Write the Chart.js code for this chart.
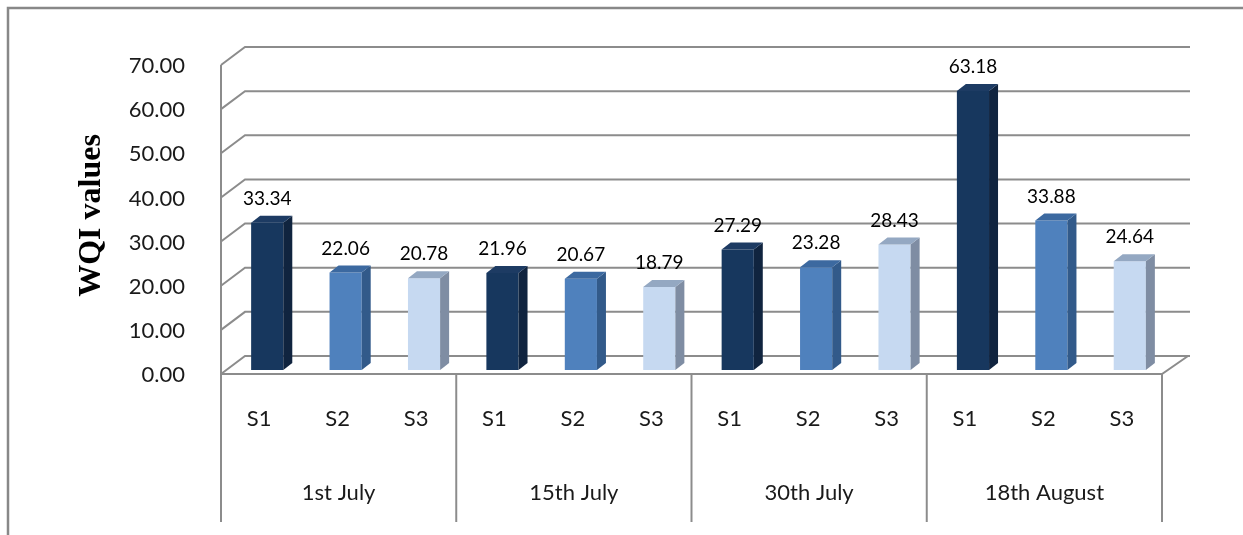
<!DOCTYPE html>
<html>
<head>
<meta charset="utf-8">
<script src="https://cdn.jsdelivr.net/npm/chart.js@4.4.1/dist/chart.umd.min.js"></script>
<style>
  html, body { margin: 0; padding: 0; background: #fff; }
  #wrap { width: 1243px; height: 535px; }
</style>
</head>
<body>
<div id="wrap"><canvas id="myChart" width="1243" height="535"></canvas></div>
<script>
// sampling dates and sites
const dates = ['1st July', '15th July', '30th July', '18th August'];
const sites = ['S1', 'S2', 'S3'];

// WQI values per site
const s1 = [33.34, 21.96, 27.29, 63.18];
const s2 = [22.06, 20.67, 23.28, 33.88];
const s3 = [20.78, 18.79, 28.43, 24.64];

const yMin = 0;
const yMax = 70;
const yStep = 10;

// front / side / top colours for each site
const faces = [
  ['#17375e', '#10243f', '#1d3b63'],
  ['#4f81bd', '#325a8a', '#3c69a0'],
  ['#c6d9f1', '#7f8da3', '#94a8c2']
];

const gridColor = '#8c8c8c';
const depthX = 9, depthY = 7;      // bar depth
const shift = 7;                   // bars sit a bit behind the front plane

// outer frame of the picture
const framePlugin = {
  id: 'frame',
  beforeDraw(chart) {
    const c = chart.ctx;
    c.save();
    c.strokeStyle = '#888';
    c.lineWidth = 2.5;
    c.beginPath();
    c.moveTo(8, 535);
    c.lineTo(8, 8);
    c.lineTo(1243, 8);
    c.stroke();
    c.restore();
  }
};

// back wall, side wall, floor and category axis boxes
const wallsPlugin = {
  id: 'walls',
  beforeDatasetsDraw(chart) {
    const c = chart.ctx;
    const xs = chart.scales.x, ys = chart.scales.y;
    const left = chart.chartArea.left, right = chart.chartArea.right;
    const fx = left - shift, bx = left + 17, ex = right + 21;
    const front = v => ys.getPixelForValue(v) + 4;
    const back = v => ys.getPixelForValue(v) - 14;
    c.save();
    c.strokeStyle = gridColor;
    c.lineWidth = 2;
    for (let v = yMin; v <= yMax; v += yStep) {
      c.beginPath();
      c.moveTo(fx, front(v));
      c.lineTo(bx, back(v));
      c.lineTo(ex, back(v));
      c.stroke();
    }
    // floor front edge and right side
    c.beginPath();
    c.moveTo(fx, front(0));
    c.lineTo(right - shift, front(0));
    c.lineTo(ex - 2, back(0));
    c.stroke();
    // left wall vertical, down through category boxes
    c.beginPath();
    c.moveTo(fx, front(yMax));
    c.lineTo(fx, 522);
    c.stroke();
    // group separators
    const catW = xs.width / dates.length;
    for (let i = 1; i <= dates.length; i++) {
      const x = xs.getPixelForValue(i - 1) + catW / 2 - shift;
      c.beginPath();
      c.moveTo(x, front(0));
      c.lineTo(x, 522);
      c.stroke();
    }
    c.restore();
  }
};

// 3d faces, value labels, two-level category labels
const barsPlugin = {
  id: 'bars3d',
  afterDatasetsDraw(chart) {
    const c = chart.ctx;
    const xs = chart.scales.x;
    c.save();
    chart.data.datasets.forEach((ds, d) => {
      const meta = chart.getDatasetMeta(d);
      meta.data.forEach((el, i) => {
        const p = el.getProps(['x', 'y', 'base', 'width'], true);
        const l = p.x - p.width / 2, r = p.x + p.width / 2;
        // side
        c.fillStyle = faces[d][1];
        c.beginPath();
        c.moveTo(r, p.y);
        c.lineTo(r + depthX, p.y - depthY);
        c.lineTo(r + depthX, p.base - depthY);
        c.lineTo(r, p.base);
        c.closePath();
        c.fill();
        // top
        c.fillStyle = faces[d][2];
        c.beginPath();
        c.moveTo(l, p.y);
        c.lineTo(l + depthX, p.y - depthY);
        c.lineTo(r + depthX, p.y - depthY);
        c.lineTo(r, p.y);
        c.closePath();
        c.fill();
        // value label
        c.fillStyle = '#000';
        c.font = '19px Lato, "Liberation Sans", sans-serif';
        c.textAlign = 'center';
        c.textBaseline = 'middle';
        c.fillText(ds.data[i].toFixed(2), p.x, p.y - 24);
        // site label
        c.fillStyle = '#1a1a1a';
        c.font = '22px Lato, "Liberation Sans", sans-serif';
        c.fillText(sites[d], p.x - 8, 419);
      });
    });
    dates.forEach((lab, i) => {
      c.fillStyle = '#1a1a1a';
      c.font = '22px Lato, "Liberation Sans", sans-serif';
      c.textAlign = 'center';
      c.textBaseline = 'middle';
      c.fillText(lab, xs.getPixelForValue(i) - shift, 493);
    });
    c.restore();
  }
};

const ctx = document.getElementById('myChart').getContext('2d');
const chart = new Chart(ctx, {
  type: 'bar',
  data: {
    labels: dates,
    datasets: [
      { label: sites[0], data: s1, backgroundColor: faces[0][0] },
      { label: sites[1], data: s2, backgroundColor: faces[1][0] },
      { label: sites[2], data: s3, backgroundColor: faces[2][0] }
    ]
  },
  options: {
    responsive: false,
    animation: false,
    devicePixelRatio: 1,
    layout: { padding: { left: 70, right: 74, top: 61, bottom: 165 } },
    datasets: { bar: { barPercentage: 0.41, categoryPercentage: 1, borderWidth: 0 } },
    plugins: { legend: { display: false }, tooltip: { enabled: false } },
    scales: {
      x: { display: false },
      y: {
        min: yMin,
        max: yMax,
        afterFit: s => { s.width = 158; },
        grid: { display: false },
        border: { display: false },
        ticks: {
          stepSize: yStep,
          padding: 35,
          labelOffset: 5,
          color: '#1a1a1a',
          font: { family: 'Lato, "Liberation Sans", sans-serif', size: 22 },
          callback: v => v.toFixed(2)
        },
        title: {
          display: true,
          text: 'WQI values',
          color: '#000',
          padding: { top: 3, bottom: 0 },
          font: { family: '"Liberation Serif", "Times New Roman", serif', size: 32, weight: 'bold' }
        }
      }
    }
  },
  plugins: [framePlugin, wallsPlugin, barsPlugin]
});
</script>
</body>
</html>
